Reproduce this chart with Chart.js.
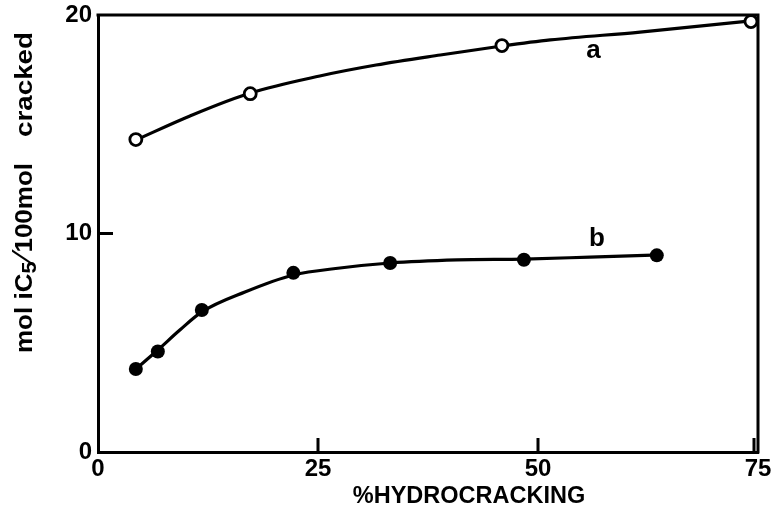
<!DOCTYPE html>
<html>
<head>
<meta charset="utf-8">
<script src="https://cdn.jsdelivr.net/npm/chart.js@4"></script>
<style>
  html, body { margin: 0; padding: 0; background: #fff; }
  canvas { display: block; }
</style>
</head>
<body>
<canvas id="c" width="772" height="519"></canvas>
<script>
// % hydrocracking and mol iC5 per 100 mol cracked, series a (open circles)
const hydrocrackingA = [4.3, 17.3, 45.9, 74.2];
const iC5A = [14.3, 16.4, 18.6, 19.7];

// series b (filled circles)
const hydrocrackingB = [4.3, 6.8, 11.8, 22.2, 33.2, 48.4, 63.5];
const iC5B = [3.8, 4.6, 6.5, 8.2, 8.65, 8.8, 9.0];

// hand-drawn trend curve through series a
const curveAX = [4.3, 10.45, 17.3, 25.2, 31.6, 38.9, 45.9, 51.4, 61.6, 74.2];
const curveAY = [14.28, 15.38, 16.43, 17.21, 17.71, 18.17, 18.58, 18.86, 19.22, 19.73];

// hand-drawn trend curve through series b
const curveBX = [4.3, 6.8, 9.3, 11.8, 16.7, 22.2, 27.5, 33.2, 40.8, 48.4, 55.9, 63.9];
const curveBY = [3.8, 4.67, 5.58, 6.41, 7.32, 8.1, 8.42, 8.65, 8.79, 8.83, 8.92, 9.02];

// axis ticks
const xTicks = [0, 25, 50, 75];
const yTicks = [0, 10, 20];

// curve labels: [text, x, y]
const curveLabels = [['a', 56.3, 18.35], ['b', 56.7, 9.75]];

const FONT = '"Liberation Sans", Arial, Helvetica, sans-serif';
const INK = '#000';

const toPoints = (xs, ys) => xs.map((x, i) => ({ x, y: ys[i] }));

// draws runs of text along the rotated axis, widened to fill [from, to]
function fitRun(ctx, parts, from, to) {
  let natural = 0;
  parts.forEach(p => { ctx.font = p.font; natural += ctx.measureText(p.text).width + (p.gap || 0); });
  const k = (to - from) / natural;
  ctx.save();
  ctx.translate(from, 0);
  ctx.scale(k, 1);
  let pos = 0;
  parts.forEach(p => {
    ctx.font = p.font;
    ctx.fillText(p.text, pos, p.dy || 0);
    pos += ctx.measureText(p.text).width + (p.gap || 0);
  });
  ctx.restore();
}

// inward ticks, top/right frame, curve letters and axis titles
const decorations = {
  id: 'decorations',
  afterDraw(chart) {
    const { ctx, chartArea: a, scales: { x, y } } = chart;
    ctx.save();
    ctx.strokeStyle = INK;
    ctx.lineWidth = 3;
    ctx.lineCap = 'square';
    ctx.beginPath();
    ctx.moveTo(a.left, a.top);
    ctx.lineTo(a.right, a.top);
    ctx.lineTo(a.right, a.bottom);
    ctx.stroke();
    ctx.lineCap = 'butt';
    ctx.beginPath();
    yTicks.slice(1, -1).forEach(v => {
      const py = y.getPixelForValue(v);
      ctx.moveTo(a.left, py);
      ctx.lineTo(a.left + 15, py);
    });
    xTicks.slice(1).forEach(v => {
      const px = x.getPixelForValue(v) - (v === 75 ? 4 : 0);
      ctx.moveTo(px, a.bottom);
      ctx.lineTo(px, a.bottom - 14);
    });
    ctx.stroke();

    ctx.fillStyle = INK;
    ctx.font = 'bold 26px ' + FONT;
    ctx.textAlign = 'center';
    ctx.textBaseline = 'middle';
    curveLabels.forEach(([t, vx, vy]) => {
      ctx.fillText(t, x.getPixelForValue(vx), y.getPixelForValue(vy));
    });

    // x-axis title
    ctx.font = 'bold 23.5px ' + FONT;
    ctx.fillText('%HYDROCRACKING', 469, 497);

    // y-axis title, rotated
    ctx.translate(25, 0);
    ctx.rotate(-Math.PI / 2);
    ctx.textAlign = 'left';
    const b24 = 'bold 24px ' + FONT;
    fitRun(ctx, [
      { text: 'mol iC', font: b24 },
      { text: '5', font: 'bold 20px ' + FONT, dy: 5, gap: 2 },
      { text: '\u2215', font: 'normal 32px ' + FONT, gap: 1 },
      { text: '100mol', font: b24 }
    ], -353, -163);
    fitRun(ctx, [{ text: 'cracked', font: b24 }], -137, -32);
    ctx.restore();
  }
};

const curveStyle = {
  showLine: true,
  tension: 0.4,
  cubicInterpolationMode: 'monotone',
  borderColor: INK,
  borderWidth: 3.2,
  pointRadius: 0,
  order: 2
};

new Chart(document.getElementById('c'), {
  type: 'scatter',
  data: {
    datasets: [
      { label: 'a', data: toPoints(curveAX, curveAY), ...curveStyle },
      { label: 'b', data: toPoints(curveBX, curveBY), ...curveStyle },
      {
        label: 'a points',
        data: toPoints(hydrocrackingA, iC5A),
        showLine: false,
        order: 1,
        pointRadius: 6,
        pointBorderWidth: 2.8,
        pointBackgroundColor: '#fff',
        pointBorderColor: INK
      },
      {
        label: 'b points',
        data: toPoints(hydrocrackingB, iC5B),
        showLine: false,
        order: 1,
        pointRadius: 7,
        pointBorderWidth: 0,
        pointBackgroundColor: INK,
        pointBorderColor: INK
      }
    ]
  },
  options: {
    responsive: false,
    animation: false,
    layout: { padding: { left: 0, top: 15, right: 14, bottom: 0 } },
    plugins: { legend: { display: false }, tooltip: { enabled: false } },
    scales: {
      x: {
        type: 'linear',
        min: 0, max: 75,
        afterBuildTicks: s => { s.ticks = xTicks.map(v => ({ value: v })); },
        afterFit: s => { s.height = 67; s.paddingLeft = 0; s.paddingRight = 0; },
        grid: { display: false, drawTicks: false },
        border: { display: true, color: INK, width: 3 },
        ticks: { color: INK, padding: 3, font: { family: FONT, size: 24, weight: 'bold' } }
      },
      y: {
        type: 'linear',
        min: 0, max: 20,
        afterBuildTicks: s => { s.ticks = yTicks.map(v => ({ value: v })); },
        afterFit: s => { s.width = 98; s.paddingTop = 0; s.paddingBottom = 0; },
        grid: { display: false, drawTicks: false },
        border: { display: true, color: INK, width: 3 },
        ticks: { color: INK, padding: 6, font: { family: FONT, size: 24, weight: 'bold' } }
      }
    }
  },
  plugins: [decorations]
});
</script>
</body>
</html>
